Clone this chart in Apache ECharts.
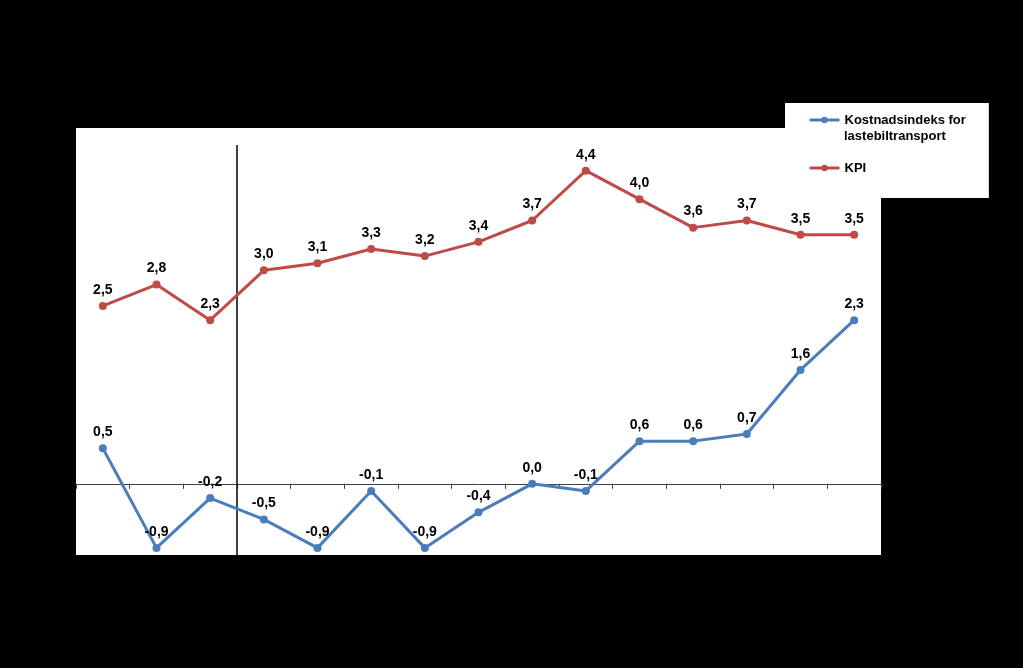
<!DOCTYPE html>
<html>
<head>
<meta charset="utf-8">
<script src="https://cdn.jsdelivr.net/npm/echarts@6/dist/echarts.min.js"></script>
<style>
html,body{margin:0;padding:0;background:#000;}
#c{width:1023px;height:668px;}
</style>
</head>
<body>
<div id="c"></div>
<script>
var categories = ['1','2','3','4','5','6','7','8','9','10','11','12','13','14','15'];
var kostnadsindeks = [0.5, -0.9, -0.2, -0.5, -0.9, -0.1, -0.9, -0.4, 0.0, -0.1, 0.6, 0.6, 0.7, 1.6, 2.3];
var kpi = [2.5, 2.8, 2.3, 3.0, 3.1, 3.3, 3.2, 3.4, 3.7, 4.4, 4.0, 3.6, 3.7, 3.5, 3.5];
var seriesNames = ['Kostnadsindeks for lastebiltransport', 'KPI'];
var dividerPosition = 2.5;
var dividerRange = [-1, 4.76];
var yRange = [-1, 5];

var FONT = '"Liberation Sans", Arial, sans-serif';
function fmt(v){ return v.toFixed(1).replace('.', ','); }

var chart = echarts.init(document.getElementById('c'), null, {renderer:'canvas'});
var labelCfg = {
  show: true, position: 'top', distance: 5,
  color: '#000', fontFamily: FONT, fontWeight: 'bold', fontSize: 14,
  formatter: function(p){ return fmt(p.value); }
};
chart.setOption({
  backgroundColor: '#000',
  animation: false,
  grid: {left: 76, top: 128, right: 142, bottom: 113, show: true, backgroundColor: '#fff', borderWidth: 0, containLabel: false},
  legend: {
    orient: 'vertical', left: 785, top: 103,
    padding: [9, 23, 22, 23],
    backgroundColor: '#fff',
    itemWidth: 30, itemHeight: 8, itemGap: 32,
    data: seriesNames,
    lineStyle: {width: 3},
    textStyle: {fontFamily: FONT, fontWeight: 'bold', fontSize: 13, color: '#000', lineHeight: 16},
    formatter: function(name){ return name === seriesNames[0] ? 'Kostnadsindeks for' : name; }
  },
  graphic: [{
    type: 'text', left: 844, top: 128, z: 100,
    style: {text: 'lastebiltransport', font: 'bold 13px ' + FONT, fill: '#000', lineHeight: 16}
  }],
  xAxis: [{
    type: 'category', data: categories, boundaryGap: true,
    axisLine: {show: true, onZero: true, lineStyle: {color: '#404040', width: 1}},
    axisTick: {show: true, inside: false, length: 5, lineStyle: {color: '#404040'}},
    axisLabel: {show: false}, splitLine: {show: false}
  }, {
    type: 'value', min: -0.5, max: 14.5, show: false
  }],
  yAxis: {
    type: 'value', min: yRange[0], max: yRange[1], interval: 1,
    axisLine: {show: false}, axisTick: {show: false}, axisLabel: {show: false}, splitLine: {show: false}
  },
  series: [{
    name: seriesNames[0], type: 'line', data: kostnadsindeks,
    symbol: 'circle', symbolSize: 8,
    lineStyle: {color: '#4A7EBB', width: 3}, itemStyle: {color: '#4A7EBB'},
    label: labelCfg, z: 5
  }, {
    name: seriesNames[1], type: 'line', data: kpi,
    symbol: 'circle', symbolSize: 8,
    lineStyle: {color: '#BE4B48', width: 3}, itemStyle: {color: '#BE4B48'},
    label: labelCfg, z: 5
  }, {
    name: 'divider', type: 'line', xAxisIndex: 1,
    data: [[dividerPosition, dividerRange[0]], [dividerPosition, dividerRange[1]]],
    symbol: 'none', silent: true, lineStyle: {color: '#000', width: 1.5}, z: 3
  }]
});
</script>
</body>
</html>
